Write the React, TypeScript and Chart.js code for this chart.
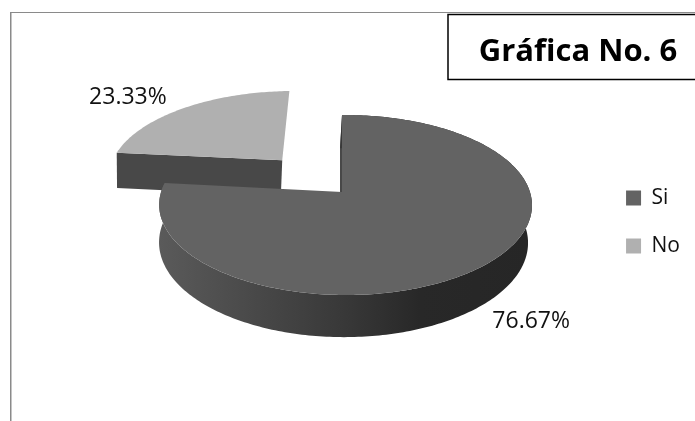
import React, { useEffect, useRef } from "react";
import { Chart, registerables } from "chart.js";

Chart.register(...registerables);

const categories = ["Si", "No"];
const percentages = [76.67, 23.33];
const sliceColors = ["#636363", "#b0b0b0"];
const chartTitle = "Gráfica No. 6";
const FONT = "'Open Sans', sans-serif";

// perspective camera for the tilted disc: top face and bottom face
const TOP = { x: 342, y: 192, sx: 184.4, sy: 88.1 };
const LOW = { x: 340, y: 229, sx: 182.5, sy: 92.5 };
const PERSP_V = -0.1444;
const PERSP_U = -0.019;
// label anchors, shift from slice's outer mid point
const labelShift = [[49, 55], [-56, -11]];

type Pt = [number, number];
const project = (cam: typeof TOP, u: number, v: number): Pt => {
  const w = 1 + PERSP_V * v + PERSP_U * u;
  return [cam.x + (cam.sx * u) / w, cam.y + (cam.sy * v) / w];
};

const fillPath = (ctx: CanvasRenderingContext2D, pts: Pt[], fill: string | CanvasGradient) => {
  ctx.beginPath();
  pts.forEach((p, i) => (i ? ctx.lineTo(p[0], p[1]) : ctx.moveTo(p[0], p[1])));
  ctx.closePath();
  ctx.fillStyle = fill;
  ctx.fill();
};

const pie3d = {
  id: "pie3d",
  beforeDraw(chart: any) {
    const ctx: CanvasRenderingContext2D = chart.ctx;
    ctx.save();
    ctx.fillStyle = "#ffffff";
    ctx.fillRect(0, 0, chart.width, chart.height);
    ctx.fillStyle = "#8a8a8a";
    ctx.fillRect(10, 12, 685, 1);
    ctx.fillRect(10, 12, 1.5, 409);
    ctx.fillStyle = "#ffffff";
    ctx.fillRect(448, 14, 247, 66);
    ctx.strokeStyle = "#000000";
    ctx.lineWidth = 1.5;
    ctx.strokeRect(448, 14.5, 260, 65);
    ctx.fillStyle = "#000000";
    ctx.font = `bold 31px ${FONT}`;
    ctx.textAlign = "center";
    ctx.textBaseline = "alphabetic";
    ctx.fillText(chartTitle, 578, 61);
    ctx.restore();
  },
  beforeDatasetsDraw(chart: any) {
    const ctx: CanvasRenderingContext2D = chart.ctx;
    const meta = chart.getDatasetMeta(0);
    const colors = chart.data.datasets[0].backgroundColor as string[];
    const wall = ctx.createLinearGradient(160, 0, 531, 0);
    wall.addColorStop(0, "#5a5a5a");
    wall.addColorStop(0.5, "#383838");
    wall.addColorStop(0.7, "#282828");
    wall.addColorStop(1, "#262626");

    // back slices first: the exploded slice sits behind the big one
    const order = meta.data.map((_: any, i: number) => i).reverse();
    order.forEach((i: number) => {
      const arc = meta.data[i];
      const R = arc.outerRadius;
      const a0 = arc.startAngle + Math.PI / 2;
      const a1 = arc.endAngle + Math.PI / 2;
      const mid = (a0 + a1) / 2;
      const e = (arc.options.offset || 0) / R;
      const u0 = Math.sin(mid) * e;
      const v0 = -Math.cos(mid) * e;
      const n = Math.max(8, Math.ceil((a1 - a0) * 60));
      const rim = (cam: typeof TOP): Pt[] => {
        const out: Pt[] = [];
        for (let k = 0; k <= n; k++) {
          const t = a0 + ((a1 - a0) * k) / n;
          out.push(project(cam, u0 + Math.sin(t), v0 - Math.cos(t)));
        }
        return out;
      };
      const topRim = rim(TOP);
      const lowRim = rim(LOW);
      const topApex = project(TOP, u0, v0);
      const lowApex = project(LOW, u0, v0);
      const isSmall = e > 0;
      if (isSmall) {
        // only the cut face towards the viewer shows on the exploded slice
        fillPath(ctx, [topApex, topRim[0], lowRim[0], lowApex], "#484848");
      } else {
        fillPath(ctx, [topApex, topRim[0], lowRim[0], lowApex], "#484848");
        fillPath(ctx, [...topRim, ...lowRim.slice().reverse()], wall);
      }
      fillPath(ctx, [topApex, ...topRim], colors[i]);
    });

    // percentage labels
    ctx.save();
    ctx.fillStyle = "#111111";
    ctx.font = `23px ${FONT}`;
    ctx.textAlign = "center";
    ctx.textBaseline = "middle";
    meta.data.forEach((arc: any, i: number) => {
      const a0 = arc.startAngle + Math.PI / 2;
      const a1 = arc.endAngle + Math.PI / 2;
      const mid = (a0 + a1) / 2;
      const e = (arc.options.offset || 0) / arc.outerRadius;
      const p = project(TOP, Math.sin(mid) * (1 + e), -Math.cos(mid) * (1 + e));
      ctx.fillText(`${percentages[i].toFixed(2)}%`, p[0] + labelShift[i][0], p[1] + labelShift[i][1]);
    });
    ctx.restore();
    return false;
  },
};

export default function App() {
  const ref = useRef<HTMLCanvasElement>(null);
  useEffect(() => {
    const chart = new Chart(ref.current!, {
      type: "pie",
      data: {
        labels: categories,
        datasets: [
          {
            data: percentages,
            backgroundColor: sliceColors,
            borderWidth: 0,
            offset: [0, 54],
          },
        ],
      },
      plugins: [pie3d],
      options: {
        responsive: false,
        animation: false,
        rotation: 0,
        layout: { padding: { top: 90, bottom: 67, left: 10, right: 5 } },
        plugins: {
          title: { display: false },
          tooltip: { enabled: false },
          legend: {
            display: true,
            position: "right",
            align: "center",
            labels: {
              boxWidth: 15,
              boxHeight: 15,
              padding: 27,
              color: "#111111",
              font: { family: FONT, size: 21 },
            },
          },
        },
      },
    } as any);
    return () => chart.destroy();
  }, []);
  return (
    <div style={{ position: "fixed", left: 0, top: 0, width: 695, height: 421 }}>
      <canvas ref={ref} width={695} height={421} style={{ display: "block" }} />
    </div>
  );
}
